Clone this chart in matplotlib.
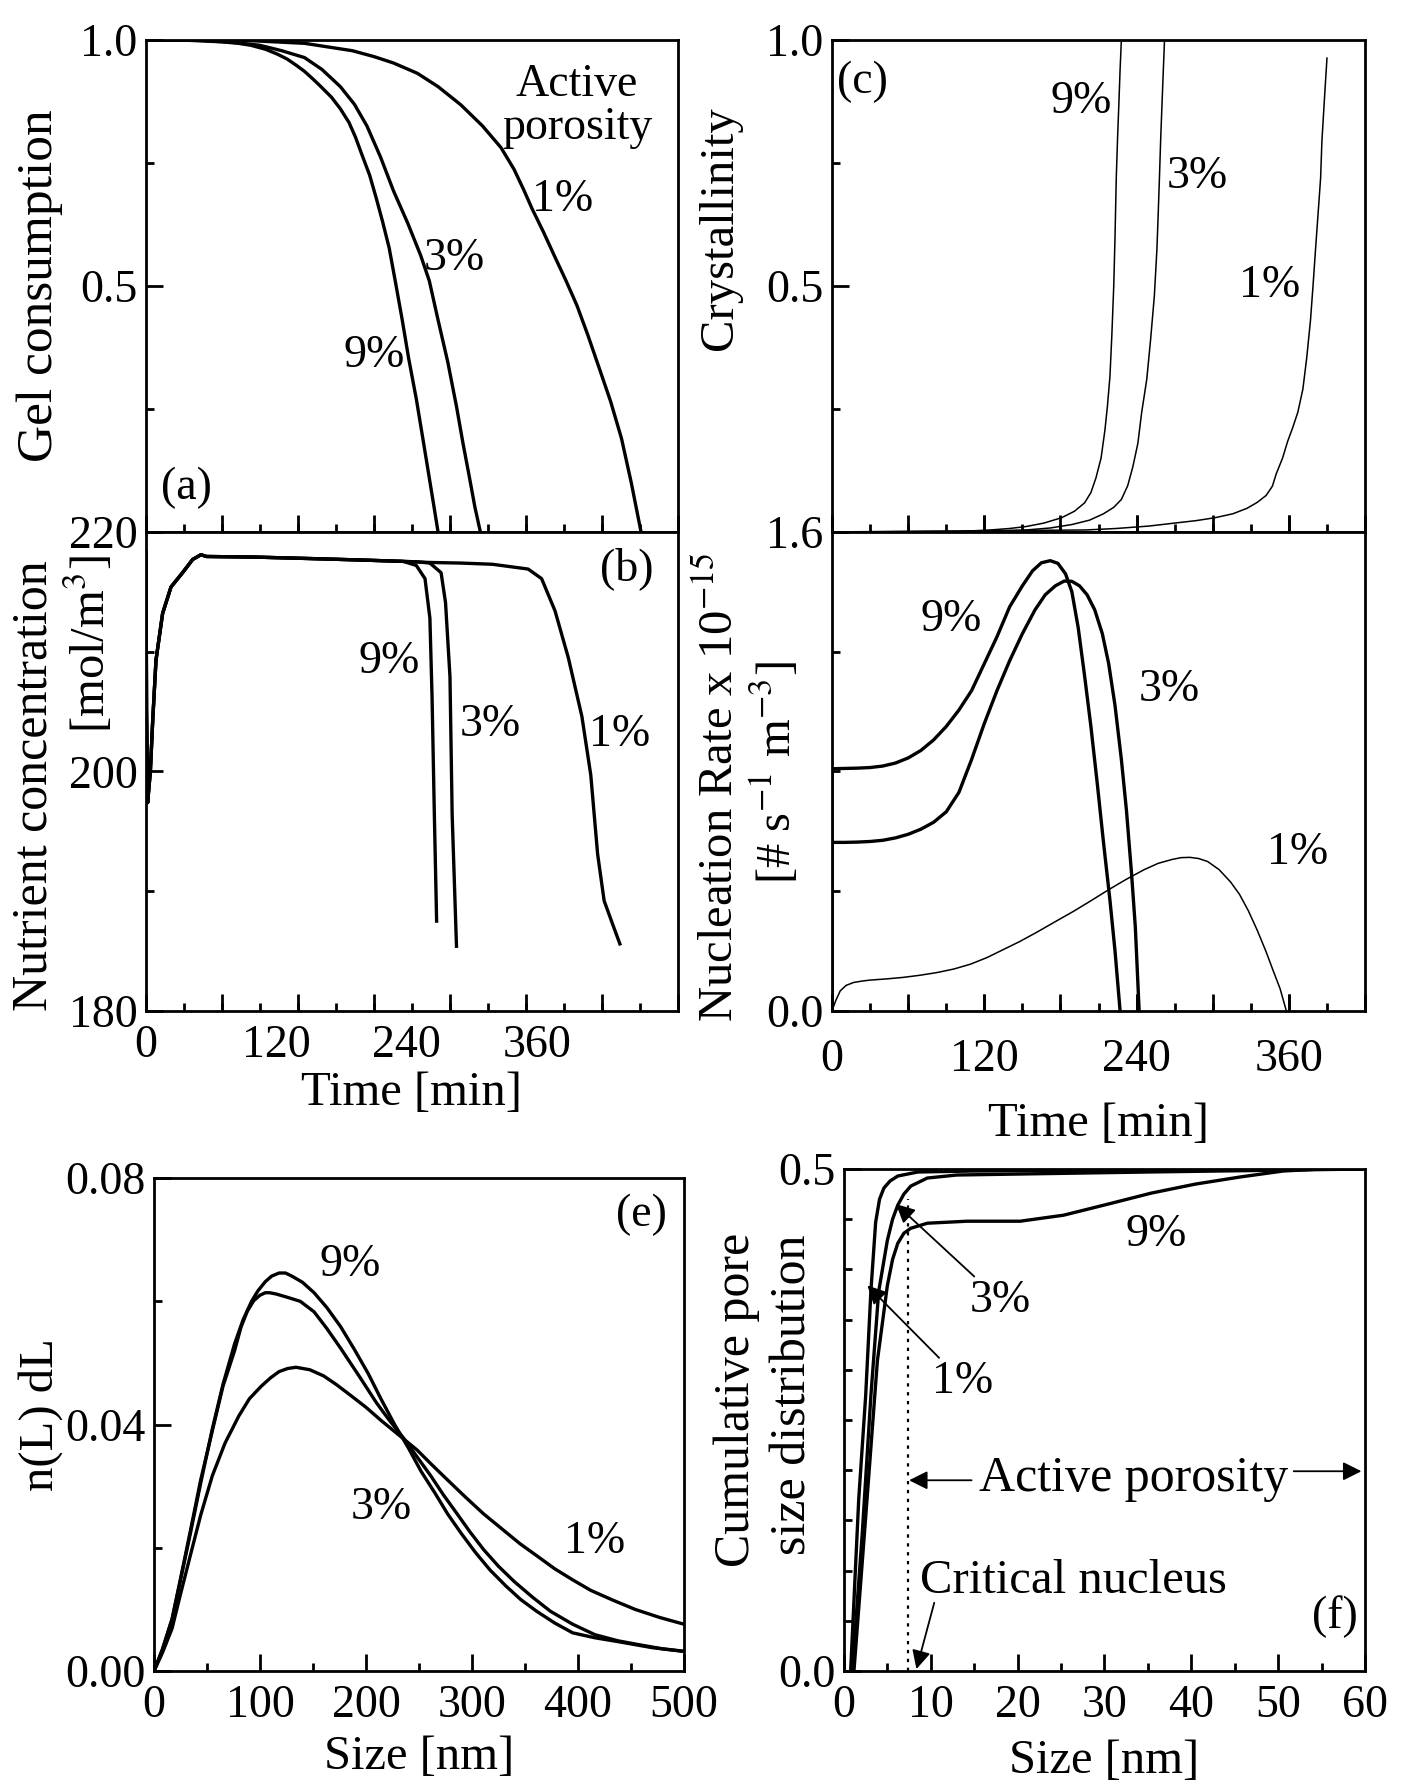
"""
Six-panel figure for 1 %, 3 % and 9 % active porosity:
(a) gel consumption, (b) nutrient concentration, (c) crystallinity,
(d) nucleation rate, (e) crystal size distribution, (f) cumulative pore size.
"""

import matplotlib
matplotlib.use('Agg')
import matplotlib.pyplot as plt
from matplotlib.ticker import FixedLocator, MultipleLocator

# ── Style ───────────────────────────────────────────────────────────────────
plt.rcParams['font.family'] = ['Liberation Serif', 'DejaVu Serif']
plt.rcParams['mathtext.fontset'] = 'stix'
plt.rcParams['axes.linewidth'] = 2.0

TICK_SIZE = 33
LABEL_SIZE = 35
NOTE_SIZE = 33
THICK = 2.4
THIN = 1.1

# ── (a) Gel consumption vs time [min] ───────────────────────────────────────
GEL_T_9 = [0, 40, 70, 85, 96.6, 110, 121, 130, 138, 146, 154, 162, 171, 179, 187,
           193, 199, 206, 212, 218, 224, 230, 236, 242, 249, 255, 261, 265, 269]
GEL_9 = [1.0, 0.999, 0.996, 0.993, 0.989, 0.981, 0.971, 0.961, 0.949, 0.936, 0.920,
         0.903, 0.883, 0.860, 0.832, 0.802, 0.766, 0.725, 0.679, 0.630, 0.577,
         0.505, 0.431, 0.352, 0.270, 0.190, 0.109, 0.055, 0.0]
GEL_T_3 = [0, 50, 80, 104.8, 125, 146, 162, 179, 192, 203.5, 216, 228, 241, 253,
           261, 269, 278, 286, 292, 298, 303, 308]
GEL_3 = [1.0, 0.999, 0.995, 0.989, 0.978, 0.964, 0.940, 0.905, 0.869, 0.825,
         0.762, 0.693, 0.628, 0.562, 0.510, 0.431, 0.345, 0.255, 0.180, 0.110, 0.050, 0.0]
GEL_T_1 = [0, 59.6, 100, 146, 190, 210, 228, 250, 269, 290, 310, 327, 339, 348,
           355.6, 366, 376, 387, 397, 407, 417, 428, 438, 447, 456]
GEL_1 = [1.0, 1.0, 0.998, 0.993, 0.978, 0.966, 0.953, 0.932, 0.905, 0.868, 0.825,
         0.781, 0.737, 0.695, 0.657, 0.610, 0.562, 0.510, 0.460, 0.400, 0.336,
         0.265, 0.190, 0.100, 0.0]

# ── (b) Nutrient concentration [mol/m3] vs time [min] ───────────────────────
NUT_T_START = [0, 0.5, 1.5, 4, 6.2, 9.2, 15.3, 23, 33.7, 43, 50.6, 55.6, 100, 154, 200, 237]
NUT_START = [218.3, 205.0, 197.4, 200.0, 204.3, 209.3, 213.2, 215.4, 216.6, 217.7,
             218.1, 217.95, 217.9, 217.77, 217.65, 217.54]
NUT_T_9 = [249, 257, 261.5, 263.5, 265.6, 267.7]
NUT_9 = [217.2, 216.1, 212.8, 206.2, 196.4, 187.5]
NUT_T_3 = [250, 261.5, 271.8, 275.9, 280, 282, 286]
NUT_3 = [217.5, 217.4, 216.6, 214.1, 207.9, 196.4, 185.4]
NUT_T_1 = [261.5, 290, 319, 352, 364.4, 376.8, 389, 401.5, 409.7, 416, 422, 430, 436.5]
NUT_1 = [217.45, 217.4, 217.3, 216.9, 216.1, 213.4, 209.5, 204.6, 199.7, 193.1,
         189.2, 187.2, 185.6]

# ── (c) Crystallinity vs time [min] ─────────────────────────────────────────
CRY_T_9 = [0, 100, 125, 140, 153, 167, 181, 191, 199, 204, 208, 212, 215, 217, 219,
           220.5, 222, 223, 224, 225, 226, 227, 228]
CRY_9 = [0, 0.001, 0.004, 0.007, 0.011, 0.018, 0.029, 0.042, 0.059, 0.080, 0.110,
         0.150, 0.206, 0.255, 0.316, 0.400, 0.500, 0.600, 0.721, 0.800, 0.868, 0.940, 1.0]
CRY_T_3 = [0, 120, 153, 172, 189, 203, 214, 222, 228, 233, 237, 241, 244, 248, 251,
           254, 256, 257, 258, 259, 260, 261, 262]
CRY_3 = [0, 0.001, 0.004, 0.008, 0.015, 0.024, 0.037, 0.050, 0.066, 0.094, 0.132,
         0.180, 0.243, 0.310, 0.390, 0.480, 0.574, 0.645, 0.720, 0.800, 0.868, 0.935, 1.0]
CRY_T_1 = [0, 200, 224, 250, 270, 287, 302, 316, 327, 335, 342, 347, 350, 355, 359,
           363, 367, 371, 374, 377, 379, 381, 383, 385, 386, 388, 390]
CRY_1 = [0, 0.004, 0.007, 0.012, 0.018, 0.023, 0.029, 0.037, 0.048, 0.060, 0.074,
         0.093, 0.118, 0.150, 0.184, 0.212, 0.243, 0.290, 0.353, 0.430, 0.500,
         0.575, 0.647, 0.720, 0.794, 0.880, 0.963]

# ── (d) Nucleation rate x 1e-15 [# s-1 m-3] vs time [min] ───────────────────
NUC_T_9 = [0, 0, 10, 20, 30, 40, 50, 60, 70, 80, 90, 100, 110, 120, 130, 140, 150,
           158, 165, 172, 178, 184, 189, 194, 199, 204, 209, 214, 219, 223, 227]
NUC_9 = [0, 0.809, 0.810, 0.811, 0.813, 0.818, 0.828, 0.845, 0.870, 0.905, 0.950,
         1.005, 1.070, 1.160, 1.250, 1.350, 1.420, 1.470, 1.497, 1.504, 1.495, 1.460,
         1.400, 1.280, 1.120, 0.950, 0.760, 0.560, 0.370, 0.200, 0.0]
NUC_T_3 = [0, 0, 10, 20, 30, 40, 50, 60, 70, 80, 90, 100, 110, 120, 130, 140, 150,
           160, 168, 176, 183, 189, 195, 201, 207, 213, 218, 223, 228, 232, 236, 239, 242]
NUC_3 = [0, 0.563, 0.563, 0.564, 0.566, 0.570, 0.578, 0.590, 0.607, 0.630, 0.665,
         0.730, 0.840, 0.960, 1.070, 1.170, 1.260, 1.340, 1.390, 1.420, 1.436, 1.435,
         1.420, 1.390, 1.340, 1.260, 1.160, 1.020, 0.840, 0.670, 0.460, 0.280, 0.0]
NUC_T_1 = [0, 3, 6.5, 11, 17, 24, 30, 43, 56, 69, 82.5, 96, 109, 122, 135, 148, 161,
           175, 190, 204, 218, 232, 246, 257, 268, 275, 282, 289, 296, 305, 314, 321,
           328, 335, 342, 348, 353, 358]
NUC_1 = [0, 0.035, 0.067, 0.085, 0.095, 0.100, 0.103, 0.107, 0.112, 0.119, 0.128,
         0.140, 0.156, 0.178, 0.205, 0.232, 0.262, 0.296, 0.332, 0.368, 0.405, 0.440,
         0.472, 0.493, 0.506, 0.512, 0.513, 0.509, 0.499, 0.472, 0.431, 0.390, 0.335,
         0.270, 0.198, 0.130, 0.075, 0.0]

# ── (e) n(L) dL vs size [nm] ────────────────────────────────────────────────
CSD_L_9 = [0, 8, 17, 25, 34, 44, 55, 65, 76, 84, 92, 98, 105, 111, 118, 124, 130,
           140, 151, 163, 176, 189, 202, 214, 227, 240, 252, 265, 277, 290, 303, 317,
           332, 346, 361, 378, 395, 416, 437, 470, 500]
CSD_9 = [0, 0.0035, 0.0083, 0.0148, 0.0221, 0.0305, 0.0393, 0.0465, 0.0531, 0.0570,
         0.0600, 0.0617, 0.0632, 0.0641, 0.0646, 0.0646, 0.0641, 0.0631, 0.0614,
         0.0590, 0.0559, 0.0522, 0.0483, 0.0442, 0.0400, 0.0362, 0.0324, 0.0289,
         0.0255, 0.0223, 0.0193, 0.0164, 0.0138, 0.0116, 0.0097, 0.0078, 0.0062,
         0.0054, 0.0048, 0.0038, 0.0032]
CSD_L_3 = [0, 8, 17, 25, 34, 44, 55, 65, 76, 82, 88, 94, 100, 105, 109, 115, 125,
           138, 151, 163, 176, 193, 210, 222, 235, 248, 261, 273, 286, 298, 311, 325,
           340, 357, 374, 395, 416, 438, 460, 480, 500]
CSD_3 = [0, 0.0036, 0.0085, 0.0150, 0.0225, 0.0310, 0.0390, 0.0462, 0.0520, 0.0558,
         0.0584, 0.0601, 0.0610, 0.0614, 0.0614, 0.0612, 0.0607, 0.0600, 0.0583,
         0.0556, 0.0524, 0.0480, 0.0435, 0.0407, 0.0379, 0.0348, 0.0317, 0.0286,
         0.0255, 0.0226, 0.0197, 0.0170, 0.0145, 0.0120, 0.0097, 0.0076, 0.0059,
         0.0049, 0.0042, 0.0036, 0.0032]
CSD_L_1 = [0, 8, 17, 25, 34, 44, 55, 67, 80, 90, 101, 110, 118, 126, 134, 147, 160,
           172, 185, 200, 214, 231, 248, 262, 277, 294, 311, 328, 345, 362, 378, 395,
           412, 433, 454, 477, 500]
CSD_1 = [0, 0.0030, 0.0069, 0.0125, 0.0186, 0.0253, 0.0317, 0.0370, 0.0414, 0.0442,
         0.0462, 0.0476, 0.0486, 0.0491, 0.0493, 0.0489, 0.0479, 0.0465, 0.0448,
         0.0428, 0.0407, 0.0383, 0.0359, 0.0335, 0.0310, 0.0282, 0.0255, 0.0231,
         0.0207, 0.0186, 0.0166, 0.0148, 0.0131, 0.0115, 0.0100, 0.0087, 0.0076]

# ── (f) Cumulative pore size distribution vs size [nm] ──────────────────────
PSD_L_1 = [0.77, 1.7, 2.5, 3.1, 3.65, 4.1, 4.6, 5.3, 6.2, 8.5, 15, 35, 60]
PSD_1 = [0, 0.171, 0.274, 0.378, 0.447, 0.470, 0.481, 0.488, 0.493, 0.497, 0.498, 0.499, 0.5]
PSD_L_3 = [0.96, 2.1, 3.1, 4.0, 5.0, 5.6, 6.2, 6.9, 7.7, 9.6, 13, 35, 60]
PSD_3 = [0, 0.136, 0.274, 0.378, 0.429, 0.450, 0.464, 0.475, 0.483, 0.491, 0.494, 0.497, 0.5]
PSD_L_9 = [1.15, 2.5, 3.85, 5.0, 5.6, 6.2, 6.9, 7.7, 9.6, 14.2, 20.3, 25.3, 30.4,
           35.4, 40.5, 45.6, 50.6, 55, 60]
PSD_9 = [0, 0.153, 0.309, 0.384, 0.410, 0.426, 0.436, 0.441, 0.446, 0.448, 0.448,
         0.454, 0.465, 0.476, 0.485, 0.492, 0.498, 0.5, 0.5]
CRITICAL_NUCLEUS_NM = 7.4
CRITICAL_LINE_TOP = 0.47

TIME_LABELS = [0, 120, 240, 360]


def style_axes(ax, ylim, yticks, ylabels, yminor, xlim, xticks, xminor,
               xlabels_on, xmajor_len=12):
    ax.set_xlim(*xlim)
    ax.set_ylim(*ylim)
    ax.set_yticks(yticks, ylabels)
    ax.yaxis.set_minor_locator(FixedLocator(yminor))
    ax.set_xticks(xticks)
    ax.xaxis.set_minor_locator(MultipleLocator(xminor))
    ax.tick_params(which='both', direction='in', top=False, right=False,
                   labelsize=TICK_SIZE, width=2)
    ax.tick_params(which='major', length=12, pad=6)
    ax.tick_params(which='minor', length=6)
    ax.tick_params(axis='x', which='major', length=xmajor_len, pad=10)
    if not xlabels_on:
        ax.tick_params(axis='x', labelbottom=False)


def long_time_ticks(ax, step):
    # every second time tick is drawn longer, independent of the labels
    sec = ax.secondary_xaxis('bottom')
    sec.xaxis.set_major_locator(MultipleLocator(step))
    sec.tick_params(direction='in', length=12, width=2, labelbottom=False)
    sec.spines['bottom'].set_visible(False)


def ylabel_at(ax, text, x, y, size=LABEL_SIZE):
    ax.text(x, y, text, transform=ax.transAxes, rotation=90, ha='center',
            va='center', fontsize=size)


def note(ax, x, y, text, size=NOTE_SIZE, **kw):
    ax.text(x, y, text, fontsize=size, ha='center', va='center', **kw)


fig = plt.figure(figsize=(14.08, 17.88), dpi=100)
ax_a = fig.add_axes([0.1037, 0.7025, 0.3778, 0.2752])
ax_b = fig.add_axes([0.1037, 0.4346, 0.3778, 0.2679])
ax_c = fig.add_axes([0.5909, 0.7025, 0.3786, 0.2752])
ax_d = fig.add_axes([0.5909, 0.4346, 0.3786, 0.2679])
ax_e = fig.add_axes([0.1094, 0.0654, 0.3764, 0.2757])
ax_f = fig.add_axes([0.5994, 0.0654, 0.3700, 0.2808])

# ── (a) ──
for t, g in [(GEL_T_9, GEL_9), (GEL_T_3, GEL_3), (GEL_T_1, GEL_1)]:
    ax_a.plot(t, g, color='black', lw=THICK)
style_axes(ax_a, (0, 1.0), [0.5, 1.0], ['0.5', '1.0'], [0.25, 0.75],
           (0, 490), TIME_LABELS, 35, False, xmajor_len=0)
long_time_ticks(ax_a, 70)
ylabel_at(ax_a, 'Gel consumption', -0.199, 0.5, size=37)
note(ax_a, 397, 0.865, 'Active\nporosity', linespacing=1.0)
note(ax_a, 384, 0.675, '1%')
note(ax_a, 284, 0.555, '3%')
note(ax_a, 210, 0.358, '9%')
note(ax_a, 37, 0.09, '(a)')

# ── (b) ──
for t_tail, c_tail in [(NUT_T_9, NUT_9), (NUT_T_3, NUT_3), (NUT_T_1, NUT_1)]:
    ax_b.plot(NUT_T_START + t_tail, NUT_START + c_tail, color='black', lw=THICK)
style_axes(ax_b, (180, 220), [180, 200, 220], ['180', '200', '220'], [190, 210],
           (0, 490), TIME_LABELS, 35, True, xmajor_len=0)
long_time_ticks(ax_b, 70)
ax_b.set_xlabel('Time [min]', fontsize=LABEL_SIZE)
ax_b.xaxis.set_label_coords(0.5, -0.125)
ylabel_at(ax_b, 'Nutrient concentration', -0.211, 0.47, size=36)
ylabel_at(ax_b, '[mol/m$^3$]', -0.107, 0.765)
note(ax_b, 443, 216.9, '(b)')
note(ax_b, 224, 209.2, '9%')
note(ax_b, 317, 203.9, '3%')
note(ax_b, 436, 203.1, '1%')

# ── (c) ──
for t, x in [(CRY_T_9, CRY_9), (CRY_T_3, CRY_3), (CRY_T_1, CRY_1)]:
    ax_c.plot(t, x, color='black', lw=THIN)
style_axes(ax_c, (0, 1.0), [0.5, 1.0], ['0.5', '1.0'], [0.25, 0.75],
           (0, 420), TIME_LABELS, 30, False)
long_time_ticks(ax_c, 60)
ylabel_at(ax_c, 'Crystallinity', -0.21, 0.618)
note(ax_c, 24, 0.915, '(c)')
note(ax_c, 196, 0.875, '9%')
note(ax_c, 288, 0.721, '3%')
note(ax_c, 345, 0.5, '1%')

# ── (d) ──
ax_d.plot(NUC_T_9, NUC_9, color='black', lw=THICK)
ax_d.plot(NUC_T_3, NUC_3, color='black', lw=THICK)
ax_d.plot(NUC_T_1, NUC_1, color='black', lw=THIN)
style_axes(ax_d, (0, 1.6), [0.0, 1.6], ['0.0', '1.6'], [0.4, 0.8, 1.2],
           (0, 420), TIME_LABELS, 30, True)
long_time_ticks(ax_d, 60)
ax_d.tick_params(axis='x', which='major', pad=20)
ax_d.set_xlabel('Time [min]', fontsize=LABEL_SIZE)
ax_d.xaxis.set_label_coords(0.5, -0.19)
ylabel_at(ax_d, 'Nucleation Rate x 10$^{-15}$', -0.21, 0.467)
ylabel_at(ax_d, '[# s$^{-1}$ m$^{-3}$]', -0.107, 0.498)
note(ax_d, 94, 1.306, '9%')
note(ax_d, 266, 1.074, '3%')
note(ax_d, 367, 0.527, '1%')

# ── (e) ──
for l, n in [(CSD_L_9, CSD_9), (CSD_L_3, CSD_3), (CSD_L_1, CSD_1)]:
    ax_e.plot(l, n, color='black', lw=THICK)
style_axes(ax_e, (0, 0.08), [0, 0.04, 0.08], ['0.00', '0.04', '0.08'], [0.02, 0.06],
           (0, 500), list(range(0, 501, 100)), 50, True)
ax_e.set_xlabel('Size [nm]', fontsize=LABEL_SIZE)
ax_e.xaxis.set_label_coords(0.5, -0.13)
ylabel_at(ax_e, 'n(L) dL', -0.215, 0.52)
note(ax_e, 460, 0.074, '(e)')
note(ax_e, 185, 0.066, '9%')
note(ax_e, 214, 0.0265, '3%')
note(ax_e, 416, 0.021, '1%')

# ── (f) ──
for l, p in [(PSD_L_1, PSD_1), (PSD_L_3, PSD_3), (PSD_L_9, PSD_9)]:
    ax_f.plot(l, p, color='black', lw=THICK)
ax_f.vlines(CRITICAL_NUCLEUS_NM, 0, CRITICAL_LINE_TOP, colors='black',
            linestyles=(0, (1.5, 2.5)), lw=1.6)
style_axes(ax_f, (0, 0.5), [0.0, 0.5], ['0.0', '0.5'],
           [0.05 * k for k in range(1, 10)],
           (0, 60), list(range(0, 61, 10)), 5, True)
ax_f.set_xlabel('Size [nm]', fontsize=LABEL_SIZE)
ax_f.xaxis.set_label_coords(0.5, -0.135)
ylabel_at(ax_f, 'Cumulative pore', -0.205, 0.54, size=36)
ylabel_at(ax_f, 'size distribution', -0.098, 0.55, size=36)

arrow = dict(arrowstyle='-|>', color='black', lw=1.3, mutation_scale=28,
             shrinkA=0, shrinkB=0)
note(ax_f, 36, 0.4345, '9%')
ax_f.annotate('3%', xy=(6.0, 0.465), xytext=(18.0, 0.369), fontsize=NOTE_SIZE,
              ha='center', va='center', arrowprops=arrow)
ax_f.annotate('1%', xy=(2.7, 0.384), xytext=(13.7, 0.288), fontsize=NOTE_SIZE,
              ha='center', va='center', arrowprops=arrow)
note(ax_f, 33.4, 0.192, 'Active porosity', size=36)
ax_f.annotate('', xy=(CRITICAL_NUCLEUS_NM + 0.1, 0.19), xytext=(14.7, 0.19),
              arrowprops=arrow)
ax_f.annotate('', xy=(59.6, 0.199), xytext=(51.8, 0.199), arrowprops=arrow)
note(ax_f, 26.4, 0.0895, 'Critical nucleus', size=35)
ax_f.annotate('', xy=(8.35, 0.002), xytext=(10.4, 0.068), arrowprops=arrow)
note(ax_f, 56.5, 0.0546, '(f)')

fig.savefig('out.png', dpi=100)
plt.close(fig)
